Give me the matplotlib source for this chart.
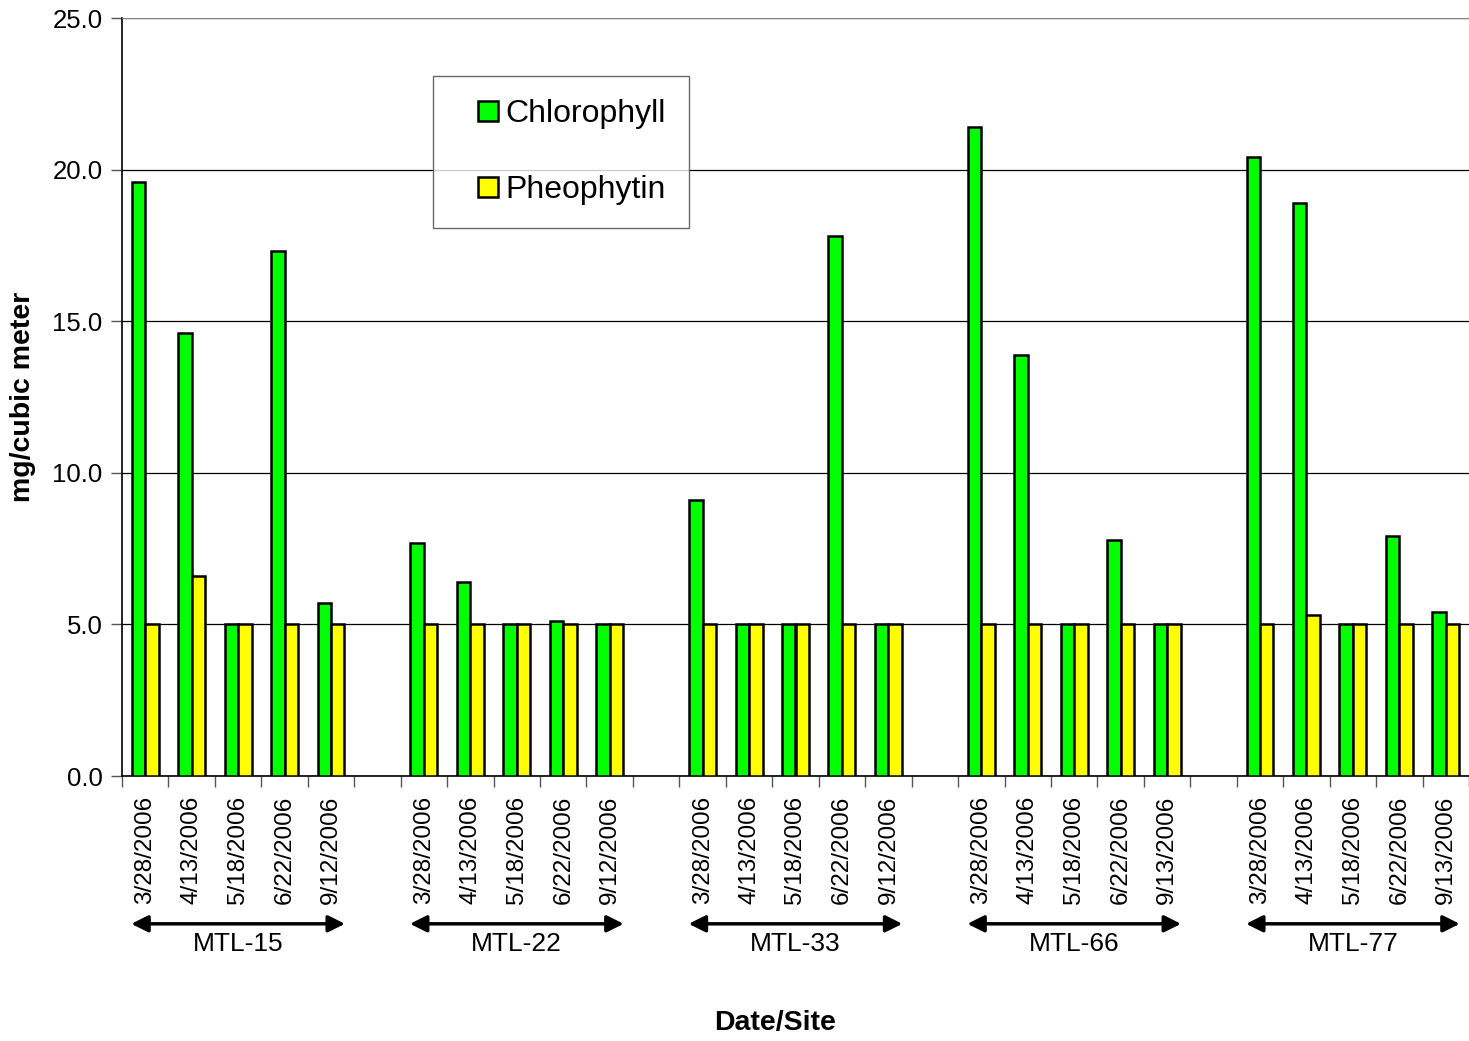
import matplotlib
matplotlib.use('Agg')
import matplotlib.pyplot as plt
from matplotlib.lines import Line2D
import numpy as np

plt.rcParams['font.family'] = ['Liberation Sans', 'DejaVu Sans']

sites = ['MTL-15', 'MTL-22', 'MTL-33', 'MTL-66', 'MTL-77']
dates = [
    ['3/28/2006', '4/13/2006', '5/18/2006', '6/22/2006', '9/12/2006'],
    ['3/28/2006', '4/13/2006', '5/18/2006', '6/22/2006', '9/12/2006'],
    ['3/28/2006', '4/13/2006', '5/18/2006', '6/22/2006', '9/12/2006'],
    ['3/28/2006', '4/13/2006', '5/18/2006', '6/22/2006', '9/13/2006'],
    ['3/28/2006', '4/13/2006', '5/18/2006', '6/22/2006', '9/13/2006'],
]
chlorophyll = [
    [19.6, 14.6, 5.0, 17.3, 5.7],
    [7.7, 6.4, 5.0, 5.1, 5.0],
    [9.1, 5.0, 5.0, 17.8, 5.0],
    [21.4, 13.9, 5.0, 7.8, 5.0],
    [20.4, 18.9, 5.0, 7.9, 5.4],
]
pheophytin = [
    [5.0, 6.6, 5.0, 5.0, 5.0],
    [5.0, 5.0, 5.0, 5.0, 5.0],
    [5.0, 5.0, 5.0, 5.0, 5.0],
    [5.0, 5.0, 5.0, 5.0, 5.0],
    [5.0, 5.3, 5.0, 5.0, 5.0],
]

# each site takes 5 slots, with one empty slot between sites
n_dates = 5
step = n_dates + 1
n_slots = len(sites) * step - 1

xs, chl, pheo, labels = [], [], [], []
for g in range(len(sites)):
    for i in range(n_dates):
        xs.append(g * step + i)
        chl.append(chlorophyll[g][i])
        pheo.append(pheophytin[g][i])
        labels.append(dates[g][i])
xs = np.array(xs)

fig = plt.figure(figsize=(14.69, 10.41), dpi=100)
ax = fig.add_axes([122 / 1469, 265 / 1041, 1347 / 1469, 758 / 1041])

green = '#00ff00'
yellow = '#ffff00'
w = 0.29
ax.bar(xs - w / 2, chl, w, color=green, edgecolor='black', linewidth=1.8, zorder=3)
ax.bar(xs + w / 2, pheo, w, color=yellow, edgecolor='black', linewidth=1.8, zorder=3)

ax.set_xlim(-0.5, n_slots - 0.5)
ax.set_ylim(0, 25)
yt = np.arange(0, 25.1, 5)
ax.set_yticks(yt)
ax.set_yticklabels(['%.1f' % v for v in yt], fontsize=18.5)
ax.yaxis.grid(True, color='black', linewidth=0.9, zorder=0)
ax.set_axisbelow(True)

# ticks sit on the slot boundaries, date labels go under each slot
ax.set_xticks(np.arange(-0.5, n_slots, 1.0))
ax.set_xticklabels([])
ax.set_xticks(xs, minor=True)
ax.set_xticklabels(labels, minor=True, rotation=90, fontsize=17.5)
ax.tick_params(axis='x', which='minor', length=0, pad=14)
ax.tick_params(axis='x', which='major', length=8, width=1, color='#555555')
ax.tick_params(axis='y', length=8, width=1, color='#555555', pad=6)

ax.spines['right'].set_visible(False)
ax.spines['top'].set_color('#888888')
ax.spines['left'].set_linewidth(1.2)
ax.spines['bottom'].set_linewidth(1.2)

# site brackets below the date labels
trans = ax.get_xaxis_transform()
for g, name in enumerate(sites):
    x0 = g * step - 0.3
    x1 = g * step + n_dates - 1 + 0.3
    ax.annotate('', xy=(x0, -0.195), xytext=(x1, -0.195), xycoords=trans,
                annotation_clip=False,
                arrowprops=dict(arrowstyle='<|-|>', color='black', lw=2.5,
                                mutation_scale=25, shrinkA=0, shrinkB=0))
    ax.text((x0 + x1) / 2, -0.222, name, transform=trans, ha='center',
            va='center', fontsize=19, clip_on=False)

ax.set_ylabel('mg/cubic meter', fontsize=20.5, fontweight='bold', labelpad=12)
fig.text(775 / 1469, 1 - 1023 / 1041, 'Date/Site', ha='center', va='center',
         fontsize=20.5, fontweight='bold')

handles = [
    Line2D([], [], linestyle='none', marker='s', markersize=14.5,
           markerfacecolor=green, markeredgecolor='black', markeredgewidth=1.8),
    Line2D([], [], linestyle='none', marker='s', markersize=14.5,
           markerfacecolor=yellow, markeredgecolor='black', markeredgewidth=1.8),
]
leg = ax.legend(handles, ['Chlorophyll', 'Pheophytin'], loc='upper left',
                bbox_to_anchor=((433 - 122) / 1347, 1 - (76 - 18) / 758),
                fontsize=23, frameon=True, fancybox=False, edgecolor='#444444',
                borderpad=0.72, labelspacing=1.45, handlelength=2.0,
                handletextpad=-0.45, borderaxespad=0)
leg.get_frame().set_linewidth(1.0)

plt.savefig('out.png', dpi=100)
